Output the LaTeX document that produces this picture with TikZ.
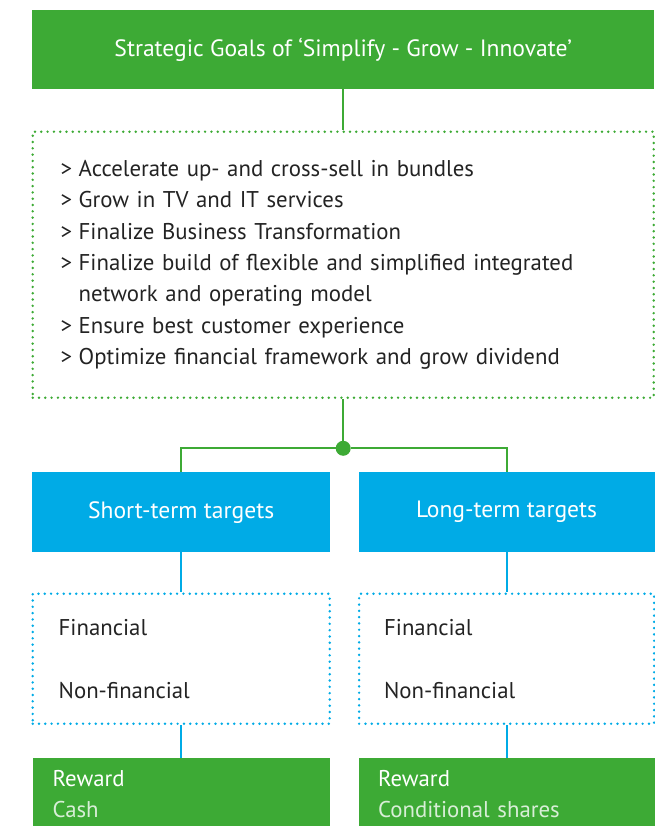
\documentclass[tikz,border=0pt]{standalone}
\usepackage{fontspec}
\setmainfont{PT Sans}
\usetikzlibrary{positioning,calc}
\definecolor{kpngreen}{RGB}{61,170,53}
\definecolor{kpnblue}{RGB}{0,171,230}
\definecolor{kpntext}{RGB}{35,35,35}
\newcommand{\chev}{\makebox[18pt][l]{>}}

\begin{document}
\begin{tikzpicture}[x=1pt, y=1pt,
    node distance=40pt and 28pt,
    bodyfont/.style={font=\fontsize{22.8}{31.3}\selectfont},
    headbox/.style={fill=kpngreen, text=white, minimum height=79pt, inner sep=0pt, font=\fontsize{23.6}{28}\selectfont},
    goalbox/.style={draw=kpngreen, line width=2.7pt, dash pattern=on 0pt off 6.3pt, line cap=round,
                    minimum height=266pt, align=left, text=kpntext, bodyfont},
    targetbox/.style={fill=kpnblue, text=white, minimum height=80pt, inner sep=0pt, font=\fontsize{23.6}{28}\selectfont},
    kindbox/.style={draw=kpnblue, line width=2.7pt, dash pattern=on 0pt off 6.3pt, line cap=round,
                    minimum height=130pt, text width=245pt, align=left, text=kpntext,
                    font=\fontsize{22.8}{63}\selectfont},
    rewardbox/.style={fill=kpngreen, text=white, minimum height=71pt, text width=257pt, align=left,
                      bodyfont},
    greenline/.style={draw=kpngreen, line width=2pt},
    blueline/.style={draw=kpnblue, line width=2pt},
  ]
  \useasboundingbox (0,0) rectangle (654,826);

  % strategy
  \node[headbox, minimum width=622pt, anchor=north west] (goals) at (32,816)
       {Strategic Goals of ‘Simplify - Grow - Innovate’};
  \node[goalbox, minimum width=621pt, text width=565pt, below=41pt of goals] (goallist) {%
    \chev Accelerate up- and cross-sell in bundles\\
    \chev Grow in TV and IT services\\
    \chev Finalize Business Transformation\\
    \chev Finalize build of flexible and simplified integrated\\
    \hphantom{\chev}network and operating model\\
    \chev Ensure best customer experience\\
    \chev Optimize financial framework and grow dividend};

  % targets
  \node[targetbox, minimum width=298pt, anchor=north west] (short) at (32,354) {Short-term targets};
  \node[targetbox, minimum width=296pt, right=28pt of short] (long) {Long-term targets};

  \node[kindbox, minimum width=297pt, below=of short] (kindshort) {Financial\\Non-financial};
  \node[kindbox, minimum width=295pt, below=of long] (kindlong) {Financial\\Non-financial};

  \node[rewardbox, minimum width=297pt, below=33pt of kindshort, anchor=north] (rewshort)
       {Reward\\\textcolor{white!80!kpngreen}{Cash}};
  \node[rewardbox, minimum width=296pt, below=33pt of kindlong, anchor=north] (rewlong)
       {Reward\\\textcolor{white!80!kpngreen}{Conditional shares}};

  % connectors
  \draw[greenline] (goals) -- (goallist);
  \node[circle, fill=kpngreen, inner sep=0pt, minimum size=15pt, below=41.5pt of goallist.south] (hub) {};
  \draw[greenline] (goallist) -- (hub);
  \draw[greenline] (hub) -| (short.north);
  \draw[greenline] (hub) -| (long.north);
  \draw[blueline] (short) -- (kindshort);
  \draw[blueline] (long) -- (kindlong);
  \draw[blueline] (kindshort) -- (rewshort);
  \draw[blueline] (kindlong) -- (rewlong);
\end{tikzpicture}
\end{document}
